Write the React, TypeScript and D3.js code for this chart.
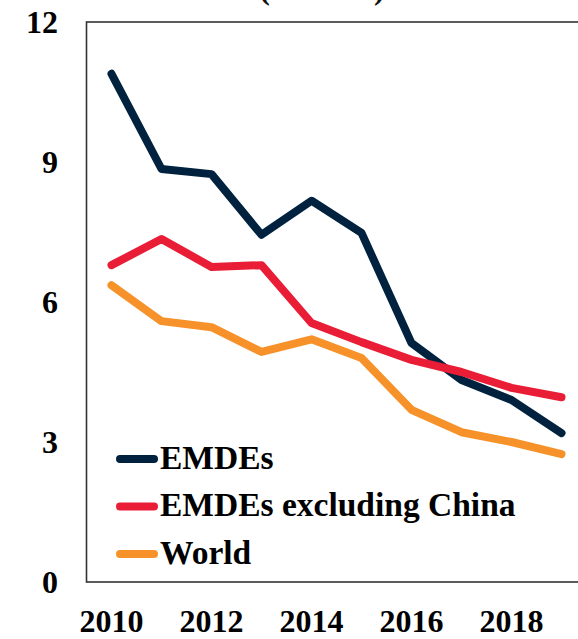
import React from "react";
import * as d3 from "d3";

const years = [2010, 2011, 2012, 2013, 2014, 2015, 2016, 2017, 2018, 2019];
const emdes = [10.89, 8.85, 8.74, 7.44, 8.17, 7.48, 5.12, 4.33, 3.9, 3.19];
const emdesExChina = [6.79, 7.35, 6.75, 6.79, 5.55, 5.14, 4.76, 4.5, 4.16, 3.96];
const world = [6.36, 5.59, 5.46, 4.93, 5.2, 4.8, 3.69, 3.21, 3.0, 2.74];
const yTicks = [0, 3, 6, 9, 12];
const xTickLabels = [2010, 2012, 2014, 2016, 2018];
const seriesNames = ["EMDEs", "EMDEs excluding China", "World"];
const seriesColors = ["#00223F", "#E91D35", "#F7922A"];
const title = "(Percent)";

const W = 578;
const H = 639;
const FONT = "'Liberation Serif', 'Times New Roman', serif";

export default function App() {
  const boxLeft = 86.5;
  const boxRight = 586.5;
  const boxTop = 22;
  const boxBottom = 582;
  const x = d3
    .scaleBand<number>()
    .domain(years)
    .range([boxLeft, boxRight])
    .padding(0);
  const xc = (yr: number) => (x(yr) as number) + x.bandwidth() / 2;
  const y = d3.scaleLinear().domain([0, 12]).range([boxBottom, boxTop]);
  const line = d3
    .line<number>()
    .x((_, i) => xc(years[i]))
    .y((v) => y(v));
  const series = [emdes, emdesExChina, world];

  const legendX1 = 120;
  const legendX2 = 154;
  const legendY0 = 459;
  const legendStep = 47.5;

  return (
    <svg
      width={W}
      height={H}
      style={{ position: "absolute", left: 0, top: 0, background: "#fff" }}
      fontFamily={FONT}
    >
      <text
        x={322}
        y={-1}
        textAnchor="middle"
        fontSize={32}
        fontWeight="bold"
        fill="#111"
      >
        {title}
      </text>
      <rect
        x={boxLeft}
        y={boxTop}
        width={boxRight - boxLeft}
        height={boxBottom - boxTop}
        fill="none"
        stroke="#333"
        strokeWidth={1.6}
      />
      {yTicks.map((t) => (
        <text
          key={t}
          x={58}
          y={y(t)}
          dy="0.34em"
          textAnchor="end"
          fontSize={32}
          fontWeight="bold"
          fill="#000"
        >
          {t}
        </text>
      ))}
      {xTickLabels.map((t) => (
        <text
          key={t}
          x={xc(t)}
          y={632}
          textAnchor="middle"
          fontSize={32}
          fontWeight="bold"
          fill="#000"
        >
          {t}
        </text>
      ))}
      {series.map((s, i) => (
        <path
          key={i}
          d={line(s) || ""}
          fill="none"
          stroke={seriesColors[i]}
          strokeWidth={8}
          strokeLinejoin="round"
          strokeLinecap="round"
        />
      ))}
      {seriesNames.map((n, i) => (
        <g key={n}>
          <line
            x1={legendX1}
            x2={legendX2}
            y1={legendY0 + i * legendStep}
            y2={legendY0 + i * legendStep}
            stroke={seriesColors[i]}
            strokeWidth={8}
            strokeLinecap="round"
          />
          <text
            x={160}
            y={legendY0 + i * legendStep + 9.5}
            fontSize={33.5}
            fontWeight="bold"
            fill="#000"
          >
            {n}
          </text>
        </g>
      ))}
    </svg>
  );
}
